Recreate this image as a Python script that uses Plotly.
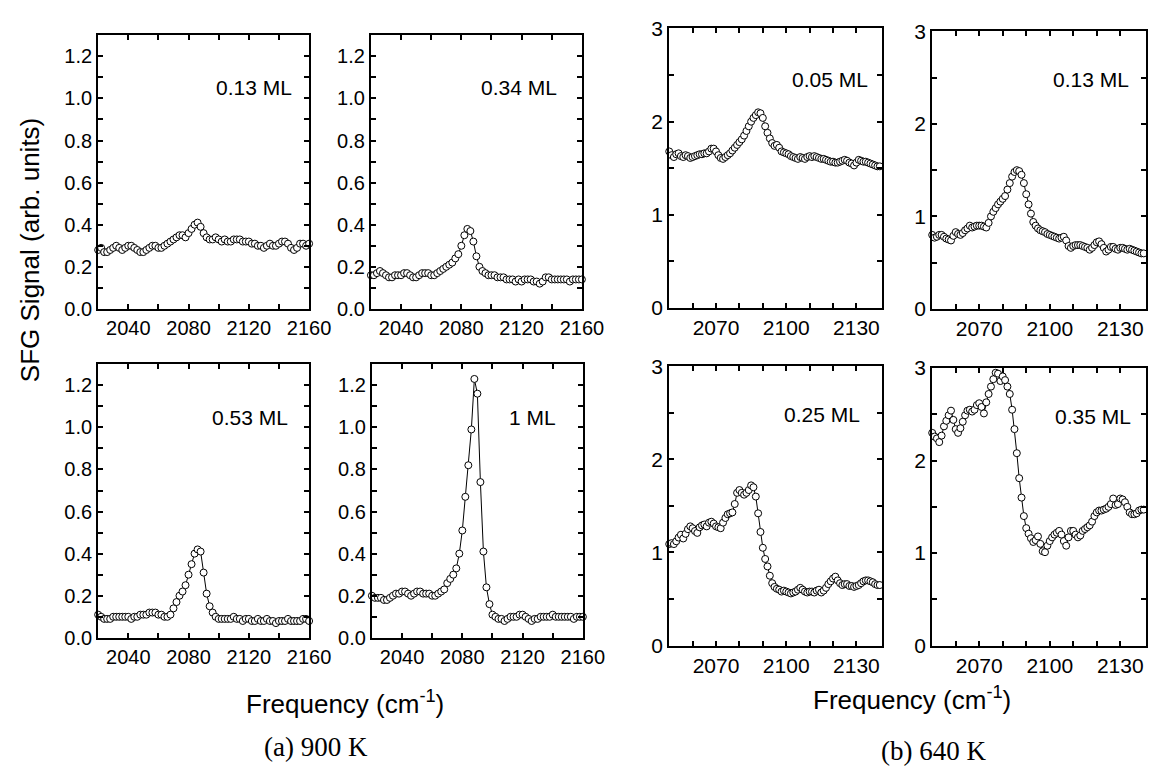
import plotly.graph_objects as go

W, H = 1174, 774

# ---------------- data ----------------
freq_a = [2020, 2022, 2024, 2026, 2028, 2030, 2032, 2034, 2036, 2038,
          2040, 2042, 2044, 2046, 2048, 2050, 2052, 2054, 2056, 2058,
          2060, 2062, 2064, 2066, 2068, 2070, 2072, 2074, 2076, 2078,
          2080, 2082, 2084, 2086, 2088, 2090, 2092, 2094, 2096, 2098,
          2100, 2102, 2104, 2106, 2108, 2110, 2112, 2114, 2116, 2118,
          2120, 2122, 2124, 2126, 2128, 2130, 2132, 2134, 2136, 2138,
          2140, 2142, 2144, 2146, 2148, 2150, 2152, 2154, 2156, 2158, 2160]

sig_a_013 = [0.28, 0.29, 0.27, 0.27, 0.28, 0.29, 0.30, 0.29, 0.28, 0.29,
             0.30, 0.30, 0.29, 0.28, 0.27, 0.27, 0.28, 0.29, 0.30, 0.30,
             0.29, 0.29, 0.30, 0.31, 0.32, 0.33, 0.34, 0.35, 0.35, 0.34,
             0.36, 0.38, 0.40, 0.41, 0.39, 0.36, 0.34, 0.33, 0.33, 0.34,
             0.33, 0.32, 0.33, 0.32, 0.32, 0.33, 0.33, 0.33, 0.32, 0.32,
             0.32, 0.31, 0.31, 0.30, 0.30, 0.29, 0.30, 0.31, 0.30, 0.30,
             0.31, 0.32, 0.32, 0.31, 0.29, 0.28, 0.29, 0.31, 0.31, 0.30, 0.31]

sig_a_034 = [0.16, 0.16, 0.17, 0.18, 0.17, 0.16, 0.15, 0.15, 0.16, 0.16,
             0.16, 0.17, 0.17, 0.16, 0.15, 0.15, 0.16, 0.17, 0.17, 0.17,
             0.16, 0.16, 0.17, 0.18, 0.19, 0.20, 0.21, 0.22, 0.24, 0.26,
             0.30, 0.35, 0.38, 0.37, 0.32, 0.25, 0.20, 0.18, 0.17, 0.16,
             0.16, 0.16, 0.15, 0.15, 0.15, 0.14, 0.14, 0.14, 0.13, 0.14,
             0.13, 0.14, 0.14, 0.14, 0.13, 0.13, 0.12, 0.13, 0.15, 0.15,
             0.14, 0.14, 0.14, 0.14, 0.14, 0.14, 0.13, 0.14, 0.14, 0.14, 0.14]

sig_a_053 = [0.11, 0.10, 0.09, 0.09, 0.09, 0.10, 0.10, 0.10, 0.10, 0.10,
             0.10, 0.09, 0.10, 0.10, 0.11, 0.11, 0.11, 0.12, 0.12, 0.12,
             0.11, 0.11, 0.10, 0.10, 0.11, 0.14, 0.17, 0.20, 0.22, 0.25,
             0.30, 0.35, 0.40, 0.42, 0.41, 0.31, 0.21, 0.15, 0.12, 0.10,
             0.09, 0.09, 0.09, 0.09, 0.09, 0.10, 0.09, 0.09, 0.08, 0.09,
             0.09, 0.08, 0.08, 0.09, 0.08, 0.08, 0.09, 0.08, 0.08, 0.07,
             0.08, 0.08, 0.08, 0.09, 0.08, 0.08, 0.08, 0.08, 0.09, 0.09, 0.08]

sig_a_100 = [0.20, 0.19, 0.19, 0.19, 0.18, 0.18, 0.19, 0.20, 0.21, 0.21,
             0.22, 0.22, 0.21, 0.20, 0.21, 0.22, 0.22, 0.21, 0.21, 0.21,
             0.20, 0.20, 0.21, 0.22, 0.23, 0.26, 0.28, 0.30, 0.33, 0.40,
             0.51, 0.67, 0.82, 0.99, 1.23, 1.16, 0.74, 0.41, 0.24, 0.16,
             0.11, 0.10, 0.09, 0.09, 0.08, 0.09, 0.10, 0.10, 0.10, 0.11,
             0.11, 0.10, 0.09, 0.08, 0.09, 0.09, 0.10, 0.10, 0.10, 0.10,
             0.11, 0.10, 0.10, 0.10, 0.10, 0.10, 0.10, 0.09, 0.10, 0.10, 0.10]

freq_b = [2050, 2051, 2052, 2053, 2054, 2055, 2056, 2057, 2058, 2059,
          2060, 2061, 2062, 2063, 2064, 2065, 2066, 2067, 2068, 2069,
          2070, 2071, 2072, 2073, 2074, 2075, 2076, 2077, 2078, 2079,
          2080, 2081, 2082, 2083, 2084, 2085, 2086, 2087, 2088, 2089,
          2090, 2091, 2092, 2093, 2094, 2095, 2096, 2097, 2098, 2099,
          2100, 2101, 2102, 2103, 2104, 2105, 2106, 2107, 2108, 2109,
          2110, 2111, 2112, 2113, 2114, 2115, 2116, 2117, 2118, 2119,
          2120, 2121, 2122, 2123, 2124, 2125, 2126, 2127, 2128, 2129,
          2130, 2131, 2132, 2133, 2134, 2135, 2136, 2137, 2138, 2139, 2140]

sig_b_005 = [1.68, 1.64, 1.62, 1.65, 1.66, 1.63, 1.62, 1.64, 1.63, 1.61,
             1.62, 1.63, 1.64, 1.65, 1.65, 1.66, 1.66, 1.68, 1.71, 1.71,
             1.68, 1.64, 1.61, 1.60, 1.62, 1.64, 1.66, 1.69, 1.72, 1.75,
             1.78, 1.81, 1.85, 1.90, 1.95, 2.00, 2.04, 2.07, 2.10, 2.09,
             2.04, 1.95, 1.88, 1.82, 1.77, 1.74, 1.75, 1.72, 1.68, 1.67,
             1.66, 1.65, 1.63, 1.62, 1.61, 1.60, 1.62, 1.61, 1.60, 1.62,
             1.63, 1.62, 1.63, 1.62, 1.61, 1.60, 1.60, 1.59, 1.58, 1.57,
             1.57, 1.56, 1.56, 1.57, 1.58, 1.59, 1.58, 1.56, 1.55, 1.53,
             1.56, 1.59, 1.58, 1.57, 1.57, 1.56, 1.55, 1.54, 1.53, 1.52, 1.52]

sig_b_013 = [0.80, 0.77, 0.78, 0.80, 0.80, 0.78, 0.76, 0.75, 0.74, 0.79,
             0.83, 0.81, 0.80, 0.82, 0.85, 0.87, 0.90, 0.88, 0.89, 0.90,
             0.90, 0.90, 0.89, 0.88, 0.93, 1.00, 1.05, 1.09, 1.13, 1.16,
             1.19, 1.22, 1.29, 1.36, 1.43, 1.48, 1.50, 1.49, 1.45, 1.36,
             1.24, 1.13, 1.03, 0.94, 0.90, 0.87, 0.85, 0.84, 0.83, 0.81,
             0.80, 0.79, 0.78, 0.77, 0.76, 0.77, 0.78, 0.74, 0.68, 0.66,
             0.68, 0.69, 0.69, 0.69, 0.68, 0.67, 0.66, 0.64, 0.66, 0.69,
             0.72, 0.73, 0.70, 0.66, 0.62, 0.64, 0.67, 0.67, 0.65, 0.64,
             0.66, 0.66, 0.65, 0.64, 0.65, 0.64, 0.63, 0.62, 0.61, 0.60, 0.60]

sig_b_025 = [1.09, 1.10, 1.09, 1.12, 1.16, 1.19, 1.15, 1.20, 1.25, 1.28,
             1.26, 1.23, 1.21, 1.27, 1.29, 1.30, 1.28, 1.32, 1.33, 1.31,
             1.28, 1.27, 1.26, 1.32, 1.37, 1.41, 1.42, 1.43, 1.52, 1.64,
             1.67, 1.64, 1.62, 1.64, 1.67, 1.72, 1.70, 1.60, 1.42, 1.22,
             1.05, 0.93, 0.85, 0.75, 0.67, 0.63, 0.61, 0.60, 0.58, 0.59,
             0.58, 0.57, 0.56, 0.57, 0.58, 0.60, 0.62, 0.60, 0.58, 0.57,
             0.58, 0.58, 0.57, 0.59, 0.60, 0.57, 0.59, 0.62, 0.66, 0.69,
             0.72, 0.74, 0.70, 0.67, 0.65, 0.66, 0.66, 0.64, 0.64, 0.63,
             0.64, 0.65, 0.67, 0.69, 0.70, 0.70, 0.69, 0.68, 0.66, 0.65, 0.65]

sig_b_035 = [2.30, 2.26, 2.24, 2.20, 2.27, 2.37, 2.43, 2.49, 2.54, 2.44,
             2.34, 2.30, 2.35, 2.42, 2.49, 2.54, 2.55, 2.53, 2.55, 2.60,
             2.62, 2.58, 2.51, 2.63, 2.72, 2.80, 2.88, 2.95, 2.94, 2.86,
             2.91, 2.87, 2.80, 2.72, 2.55, 2.34, 2.08, 1.81, 1.60, 1.40,
             1.27, 1.21, 1.16, 1.12, 1.14, 1.18, 1.10, 1.02, 1.01, 1.08,
             1.13, 1.17, 1.20, 1.22, 1.24, 1.20, 1.13, 1.08, 1.17, 1.24,
             1.24, 1.20, 1.17, 1.19, 1.24, 1.26, 1.28, 1.30, 1.34, 1.40,
             1.44, 1.46, 1.46, 1.47, 1.48, 1.50, 1.53, 1.59, 1.52, 1.53,
             1.59, 1.58, 1.55, 1.50, 1.44, 1.42, 1.42, 1.43, 1.46, 1.47, 1.47]

coverage_labels = ["0.13 ML", "0.34 ML", "0.53 ML", "1 ML",
                   "0.05 ML", "0.13 ML", "0.25 ML", "0.35 ML"]

# tick definitions (labelled major ticks + unlabelled minor ticks)
a_xticks = [2040, 2080, 2120, 2160]
a_xticktext = ["2040", "2080", "2120", "2160"]
a_xminor = [2060, 2100, 2140]
a_yticks = [0.0, 0.2, 0.4, 0.6, 0.8, 1.0, 1.2]
a_yticktext = ["0.0", "0.2", "0.4", "0.6", "0.8", "1.0", "1.2"]
a_yminor = [0.1, 0.3, 0.5, 0.7, 0.9, 1.1]
b_xticks = [2070, 2100, 2130]
b_xticktext = ["2070", "2100", "2130"]
b_xminor = [2060, 2080, 2090, 2110, 2120]
b_yticks = [0, 1, 2, 3]
b_yticktext = ["0", "1", "2", "3"]
b_yminor = [0.5, 1.5, 2.5]

# ---------------- layout ----------------
panels = [
    (freq_a, sig_a_013, (100, 315, 24, 306), "a", (300, 78)),
    (freq_a, sig_a_034, (378, 593, 24, 306), "a", (570, 78)),
    (freq_a, sig_a_053, (100, 315, 363, 645), "a", (296, 418)),
    (freq_a, sig_a_100, (379, 594, 363, 645), "a", (569, 418)),
    (freq_b, sig_b_005, (682, 899, 17, 305), "b", (887, 70)),
    (freq_b, sig_b_013, (950, 1168, 20, 306), "b", (1153, 70)),
    (freq_b, sig_b_025, (682, 899, 365, 653), "b", (878, 415)),
    (freq_b, sig_b_035, (950, 1168, 367, 653), "b", (1155, 417)),
]

fig = go.Figure()
layout = dict(
    width=W, height=H,
    margin=dict(l=0, r=0, t=0, b=0),
    paper_bgcolor="white", plot_bgcolor="white",
    showlegend=False,
    font=dict(family="Liberation Sans, Arial", color="black"),
)
annotations = []

for i, (xs, ys, box, grp, lab) in enumerate(panels):
    n = i + 1
    xa = "x" if n == 1 else f"x{n}"
    ya = "y" if n == 1 else f"y{n}"
    l, r, t, b = box
    fig.add_trace(go.Scatter(
        x=xs, y=ys, xaxis=xa, yaxis=ya, mode="lines+markers",
        line=dict(color="black", width=1),
        marker=dict(symbol="circle", size=7, color="white",
                    line=dict(color="black", width=1)),
        cliponaxis=False,
    ))
    if grp == "a":
        xr, yr = [2020, 2160], [0, 1.3]
        xt, xtt, xm = a_xticks, a_xticktext, a_xminor
        yt, ytt, ym = a_yticks, a_yticktext, a_yminor
        fs = 20
    else:
        xr, yr = [2050, 2141], [0, 3]
        xt, xtt, xm = b_xticks, b_xticktext, b_xminor
        yt, ytt, ym = b_yticks, b_yticktext, b_yminor
        fs = 21
    common = dict(showgrid=False, zeroline=False, showline=True, linecolor="black",
                  linewidth=2, mirror="allticks", ticks="inside", ticklen=5,
                  tickwidth=1.5, tickcolor="black",
                  tickfont=dict(size=fs, family="Liberation Sans, Arial", color="black"))
    layout["xaxis" if n == 1 else f"xaxis{n}"] = dict(
        domain=[l / W, r / W], range=xr, anchor=ya,
        tickmode="array", tickvals=xt, ticktext=xtt,
        minor=dict(tickmode="array", tickvals=xm, ticks="inside", ticklen=5,
                   tickwidth=1.5, tickcolor="black", showgrid=False),
        **common)
    layout["yaxis" if n == 1 else f"yaxis{n}"] = dict(
        domain=[1 - b / H, 1 - t / H], range=yr, anchor=xa,
        tickmode="array", tickvals=yt, ticktext=ytt,
        minor=dict(tickmode="array", tickvals=ym, ticks="inside", ticklen=5,
                   tickwidth=1.5, tickcolor="black", showgrid=False),
        **common)
    annotations.append(dict(
        text=coverage_labels[i], xref="paper", yref="paper",
        x=lab[0] / W, y=1 - lab[1] / H, xanchor="right", yanchor="middle",
        showarrow=False, font=dict(size=21, family="Liberation Sans, Arial", color="black")))

annotations += [
    dict(text="SFG Signal (arb. units)", xref="paper", yref="paper",
         x=30 / W, y=1 - 245 / H, xanchor="center", yanchor="middle", textangle=-90,
         showarrow=False, font=dict(size=26, family="Liberation Sans, Arial", color="black")),
    dict(text="Frequency (cm<sup>-1</sup>)", xref="paper", yref="paper",
         x=352 / W, y=1 - 712 / H, xanchor="center", yanchor="middle",
         showarrow=False, font=dict(size=26, family="Liberation Sans, Arial", color="black")),
    dict(text="Frequency (cm<sup>-1</sup>)", xref="paper", yref="paper",
         x=929 / W, y=1 - 708 / H, xanchor="center", yanchor="middle",
         showarrow=False, font=dict(size=26, family="Liberation Sans, Arial", color="black")),
    dict(text="(a) 900 K", xref="paper", yref="paper",
         x=322 / W, y=1 - 757 / H, xanchor="center", yanchor="middle",
         showarrow=False, font=dict(size=27, family="Liberation Serif, Times New Roman", color="black")),
    dict(text="(b) 640 K", xref="paper", yref="paper",
         x=951 / W, y=1 - 762 / H, xanchor="center", yanchor="middle",
         showarrow=False, font=dict(size=27, family="Liberation Serif, Times New Roman", color="black")),
]
layout["annotations"] = annotations
fig.update_layout(**layout)
fig.write_html("out.html")
